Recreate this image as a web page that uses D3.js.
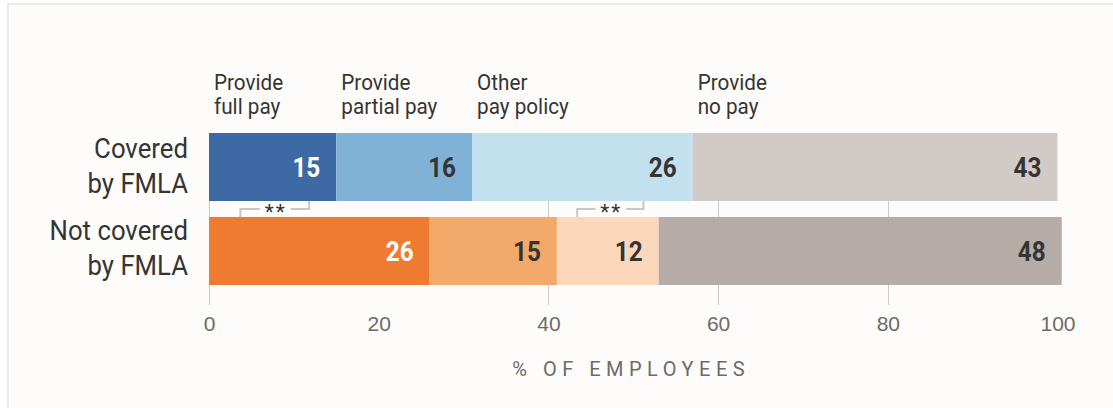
<!DOCTYPE html>
<head>
<meta charset="utf-8">
<style>
body { margin: 0; background: #fff; font-family: Roboto, "Noto Sans", Arial, sans-serif; }
.grid line { stroke: #cfcbc8; stroke-width: 1; shape-rendering: crispEdges; }
.grid path { stroke-width: 0; }
.ticks text { fill: #6f6a66; font-size: 21px; font-weight: 300; }
.ticks path, .ticks line { display: none; }
</style>
</head>
<body>
<script src="https://cdn.jsdelivr.net/npm/d3@7"></script>
<script>

// rows and policy categories
var groups = ["Covered by FMLA", "Not covered by FMLA"];
var groupLines = [["Covered", "by FMLA"], ["Not covered", "by FMLA"]];
var policies = ["Provide full pay", "Provide partial pay", "Other pay policy", "Provide no pay"];
var policyLines = [["Provide", "full pay"], ["Provide", "partial pay"], ["Other", "pay policy"], ["Provide", "no pay"]];

// % of employees (bar lengths as drawn; labels are rounded)
var covered = [15, 16, 26, 43];
var notCovered = [26, 15, 12, 47.5];

var coveredColors = ["#3d6aa5", "#80b2d7", "#c3e0ef", "#d1cac6"];
var notCoveredColors = ["#ee7b2f", "#f2a96a", "#fbd8bb", "#b5aca7"];

var xTicks = [0, 20, 40, 60, 80, 100];
var gridTicks = [0, 40, 60, 80];

// significance brackets (x in % units)
var sigBrackets = [[3.7, 11.8], [43.4, 51.2]];

var W = 1113, H = 408;
var margin = {top: 133, left: 209, right: 56, bottom: 123};

var svg = d3.select("body").append("svg")
    .attr("width", W)
    .attr("height", H);

// page frame
svg.append("rect")
    .attr("x", 8).attr("y", 4)
    .attr("width", W).attr("height", H)
    .style("fill", "#fdfcfa")
    .style("stroke", "#ebebeb")
    .style("stroke-width", 2);

var x = d3.scaleLinear().domain([0, 100]).range([margin.left, 1057.5]);
var y = d3.scaleBand().domain(groups).range([133, 285]).paddingInner(16 / 84).paddingOuter(0);

// condensed text helper
function ctext(sel, tx, ty, str, sx) {
  return sel.append("text")
      .attr("transform", "translate(" + tx + "," + ty + ") scale(" + sx + ",1)")
      .text(str);
}

// gridlines
svg.append("g")
    .attr("class", "grid")
    .attr("transform", "translate(0,305)")
    .call(d3.axisBottom(x).tickValues(gridTicks).tickSize(-(305 - 133)).tickFormat(""));

// stacked rows
var rows = [covered, notCovered];
var rowColors = [coveredColors, notCoveredColors];

rows.forEach(function(vals, r) {
  var g = svg.append("g");
  var start = 0;
  vals.forEach(function(v, i) {
    var x0 = x(start), x1 = x(start + v);
    g.append("rect")
        .attr("x", x0)
        .attr("y", y(groups[r]))
        .attr("width", x1 - x0)
        .attr("height", y.bandwidth())
        .style("fill", rowColors[r][i]);
    ctext(g, x1 - 16, y(groups[r]) + y.bandwidth() / 2 + 10, Math.round(v), 0.9)
        .style("text-anchor", "end")
        .style("font-size", "27px")
        .style("font-weight", "bold")
        .style("fill", i == 0 ? "#ffffff" : "#363433");
    start += v;
  });

  // row label
  groupLines[r].forEach(function(line, k) {
    ctext(svg, 188, y(groups[r]) + y.bandwidth() / 2 - 9 - r * 2 + k * 35, line, 0.92)
        .style("text-anchor", "end")
        .style("font-size", "28px")
        .style("fill", "#363433");
  });
});

// column headers above top row
var acc = 0;
covered.forEach(function(v, i) {
  policyLines[i].forEach(function(line, k) {
    ctext(svg, x(acc) + 5, 90 + k * 24, line, 0.92)
        .style("font-size", "22.5px")
        .style("fill", "#363433");
  });
  acc += v;
});

// significance brackets
var yTop = y(groups[0]) + y.bandwidth(), yBot = y(groups[1]);
var yMid = (yTop + yBot) / 2;
sigBrackets.forEach(function(b) {
  var a = x(b[0]), c = x(b[1]), m = (a + c) / 2;
  svg.append("path")
      .attr("d", "M" + a + "," + yBot + "V" + yMid + "H" + (m - 15))
      .style("fill", "none").style("stroke", "#c9c6c3").style("stroke-width", 2);
  svg.append("path")
      .attr("d", "M" + (m + 16) + "," + yMid + "H" + c + "V" + yTop)
      .style("fill", "none").style("stroke", "#c9c6c3").style("stroke-width", 2);
  svg.append("text")
      .attr("x", m + 1).attr("y", yMid + 10)
      .style("text-anchor", "middle")
      .style("font-size", "21px")
      .style("letter-spacing", "2px")
      .style("fill", "#363433")
      .text("**");
});

// x axis labels
var ax = svg.append("g")
    .attr("class", "ticks")
    .attr("transform", "translate(0,316)")
    .call(d3.axisBottom(x).tickValues(xTicks).tickSize(0).tickPadding(0));
ax.selectAll("text").attr("dy", "0.71em");

svg.append("text")
    .attr("x", x(50) - 2)
    .attr("y", 376)
    .style("text-anchor", "middle")
    .style("font-size", "20px")
    .style("letter-spacing", "5.5px")
    .style("fill", "#6f6a66")
    .text("% OF EMPLOYEES");

</script>
</body>
